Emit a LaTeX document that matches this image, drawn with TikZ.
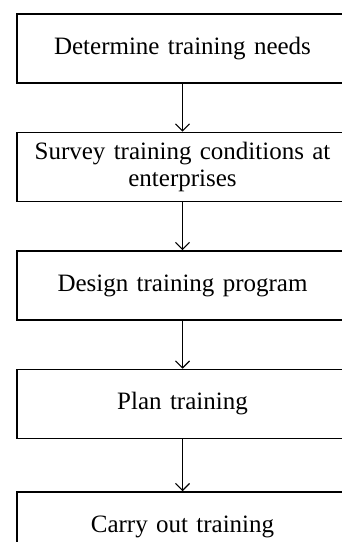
\documentclass[tikz,border=0pt]{standalone}
\usepackage{fontspec}
\setmainfont{Liberation Serif}
\usetikzlibrary{positioning}
\usetikzlibrary{arrows.meta}

\begin{document}
\begin{tikzpicture}[x=1pt,y=1pt,node distance=48pt,>={Straight Barb[length=7pt,width=14pt]},
	every node/.style={font=\fontsize{25}{27.5}\selectfont},
	stage/.style={draw,line width=1.5pt,minimum width=331pt,minimum height=69pt,
		text width=310pt,align=center,inner sep=0pt}]

	\useasboundingbox (0,0) rectangle (342,542);
	\clip (0,0) rectangle (342,542);

	\node[stage] (needs) at (182.5,493.5) {Determine training needs};
	\node[stage] (survey) [below=of needs] {Survey training conditions at\\ enterprises};
	\node[stage] (design) [below=of survey] {Design training program};
	\node[stage] (plan) [below=of design] {Plan training};
	\node[stage] (carry) [below=52pt of plan] {Carry out training};

	\path[->,line width=1.2pt] (needs) edge (survey)
		(survey) edge (design)
		(design) edge (plan)
		(plan) edge (carry);
\end{tikzpicture}
\end{document}
